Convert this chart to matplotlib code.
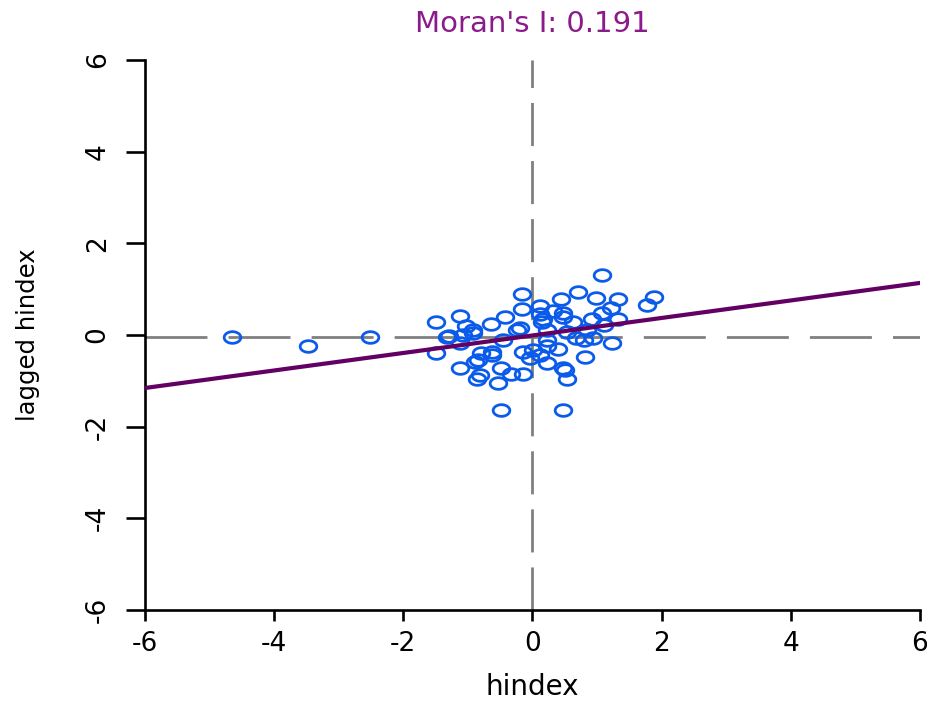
import matplotlib
matplotlib.use("Agg")
import matplotlib.pyplot as plt
import numpy as np
from matplotlib.path import Path

# hindex values (x) and their spatial lag (y)
hindex = [-4.66, -3.47, -2.52, -1.49, -1.49,
          1.08, -0.16, 0.70, 0.44, 0.98, 1.33, 1.88, 1.77,
          -1.12, -1.03, -0.65, -0.42, -0.16, 0.12, 0.12, 0.32, 0.48, 0.63,
          0.92, 1.07, 1.21, 1.33, 1.10, -0.24, 0.14, 0.22, 0.53, 0.84,
          -1.29, -0.92, -0.45, 0.22, 0.68, 0.94, 1.23, -1.12, -0.79, -0.63,
          0.22, 0.40, -0.04, 0.81, 0.22, -0.84, -1.12, -0.48, 0.48, -0.86,
          -0.54, -0.14, 0.53, -0.34, -0.48, 0.48, 0.01,
          -0.19, 0.17, 0.48, 0.79, -0.15, 0.12, 0.50,
          -0.92, -1.33, -1.07, -0.89, -0.81, -0.63]
lagged = [-0.04, -0.25, -0.04, 0.29, -0.39,
          1.31, 0.89, 0.93, 0.78, 0.81, 0.78, 0.84, 0.65,
          0.41, 0.20, 0.23, 0.40, 0.56, 0.63, 0.45, 0.52, 0.49, 0.29,
          0.36, 0.49, 0.58, 0.36, 0.22, 0.12, 0.29, 0.11, 0.07, 0.11,
          -0.02, 0.04, -0.11, -0.11, -0.07, -0.07, -0.18, -0.18, -0.40, -0.36,
          -0.25, -0.30, -0.51, -0.49, -0.62, -0.55, -0.73, -0.73, -0.73, -0.95,
          -1.05, -0.84, -0.95, -0.84, -1.64, -1.64, -0.33,
          0.15, 0.36, 0.40, -0.11, -0.36, -0.44, -0.76,
          0.11, -0.04, 0.00, -0.58, -0.87, -0.44]

moran_i = 0.191
intercept = -0.01
x_mean = 0.0
lag_mean = -0.05
ticks = [-6, -4, -2, 0, 2, 4, 6]

plt.rcParams['axes.unicode_minus'] = False
plt.rcParams['font.family'] = ['DejaVu Sans']

# the original picture is stretched sideways, so the circles are ellipses
t = np.linspace(0, 2 * np.pi, 41)
ellipse = Path(np.column_stack([np.cos(t), 0.7 * np.sin(t)]), closed=True)

fig = plt.figure(figsize=(9.28, 7.04), dpi=100)
ax = fig.add_axes([145 / 928, 94 / 704, 775 / 928, 550 / 704])

ax.axvline(x_mean, color='#808080', lw=2, dashes=(15.5, 5.4), zorder=1)
ax.axhline(lag_mean, color='#808080', lw=2, dashes=(22.3, 7.6), zorder=1)
ax.plot(hindex, lagged, linestyle='none', marker=ellipse, markersize=12,
        markerfacecolor='none', markeredgecolor='#0B5BEA', markeredgewidth=2, zorder=2)
ax.axline((0, intercept), slope=moran_i, color='#630063', lw=3, zorder=3)

ax.set_xlim(-6, 6)
ax.set_ylim(-6, 6)
ax.set_xticks(ticks)
ax.set_yticks(ticks)
ax.spines['top'].set_visible(False)
ax.spines['right'].set_visible(False)
ax.spines['left'].set_linewidth(1.9)
ax.spines['bottom'].set_linewidth(1.9)
ax.tick_params(axis='x', length=8, width=1.9, pad=7, labelsize=19)
ax.tick_params(axis='y', length=13.7, width=1.9, pad=11, labelsize=19, labelrotation=90)
for lab in ax.get_yticklabels():
    lab.set_va('center')

ax.set_title("Moran's I: 0.191", color='#8B1A8B', fontsize=21, pad=20)
ax.set_xlabel('hindex', fontsize=20)
ax.xaxis.label.set_va('baseline')
ax.xaxis.set_label_coords(0.5, -0.155)
ax.set_ylabel('lagged hindex', fontsize=17.5)
ax.yaxis.label.set_va('center')
ax.yaxis.set_label_coords(-0.151, 0.5)

fig.savefig('out.png', dpi=100)
